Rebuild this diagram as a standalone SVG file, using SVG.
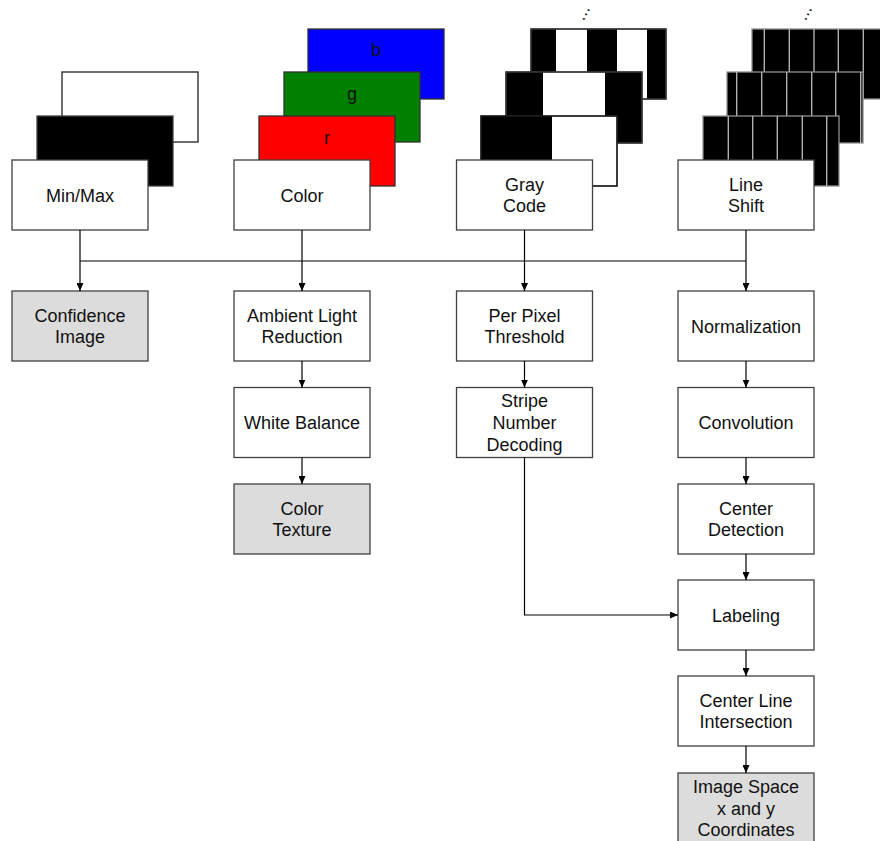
<svg xmlns="http://www.w3.org/2000/svg" width="880" height="841" viewBox="0 0 880 841">
<style>
.box{fill:#ffffff;stroke:#404040;stroke-width:1.3}
.res{fill:#dcdcdc;stroke:#404040;stroke-width:1.3}
.blk{fill:#000000;stroke:#404040;stroke-width:1.3}
.wht{fill:#ffffff;stroke:#202020;stroke-width:1.3}
.gl{stroke:#b0b0b0;stroke-width:1.4}
.lbl{font-family:"Liberation Sans",Arial,sans-serif;font-size:18px;fill:#111111;text-anchor:middle}
.con{fill:none;stroke:#000000;stroke-width:1.2}
</style>
<defs>
<marker id="ah" markerWidth="8" markerHeight="7" refX="8" refY="3.5" orient="auto" markerUnits="userSpaceOnUse">
<path d="M0,0 L8,3.5 L0,7 z" fill="#000000"/>
</marker>
</defs>

<g id="minmax-stack">
<rect class="wht" x="62" y="72" width="136" height="70"/>
<rect class="blk" x="37" y="116" width="136" height="70"/>
</g>
<g id="minmax">
<rect class="box" x="12" y="160" width="136" height="70"/>
<text class="lbl" x="80" y="201.5">Min/Max</text>
</g>

<g id="color-stack">
<rect x="308" y="29" width="136" height="70" fill="#0000ff" stroke="#303030" stroke-width="1.3"/>
<text class="lbl" x="376" y="56">b</text>
<rect x="284" y="72" width="136" height="70" fill="#008000" stroke="#303030" stroke-width="1.3"/>
<text class="lbl" x="352" y="100">g</text>
<rect x="259" y="116" width="136" height="70" fill="#ff0000" stroke="#303030" stroke-width="1.3"/>
<text class="lbl" x="327" y="144">r</text>
</g>
<g id="color">
<rect class="box" x="234" y="160" width="136" height="70"/>
<text class="lbl" x="302" y="201.5">Color</text>
</g>

<g id="graycode-stack">
<text class="lbl" transform="translate(583.5,21.5) rotate(-62)" x="0" y="0" style="text-anchor:start">...</text>
<rect class="wht" x="531" y="29" width="135" height="70"/>
<rect x="531" y="29" width="25" height="70" fill="#000"/>
<rect x="587" y="29" width="30" height="70" fill="#000"/>
<rect x="647" y="29" width="19" height="70" fill="#000"/>
<rect x="531" y="29" width="135" height="70" fill="none" stroke="#404040" stroke-width="1.3"/>
<rect class="wht" x="506" y="72" width="136" height="71"/>
<rect x="506" y="72" width="37" height="71" fill="#000"/>
<rect x="605" y="72" width="37" height="71" fill="#000"/>
<rect x="506" y="72" width="136" height="71" fill="none" stroke="#404040" stroke-width="1.3"/>
<rect class="wht" x="481" y="116" width="136" height="70"/>
<rect x="481" y="116" width="71" height="70" fill="#000"/>
<rect x="481" y="116" width="136" height="70" fill="none" stroke="#202020" stroke-width="1.3"/>
</g>
<g id="graycode">
<rect class="box" x="456.5" y="160" width="136" height="70"/>
<text class="lbl" x="524.5" y="190.7">Gray</text>
<text class="lbl" x="524.5" y="212.3">Code</text>
</g>

<g id="lineshift-stack">
<text class="lbl" transform="translate(805.5,21.5) rotate(-62)" x="0" y="0" style="text-anchor:start">...</text>
<rect x="752" y="29" width="136" height="70" fill="#000" stroke="#909090" stroke-width="1.3"/>
<line class="gl" x1="764.3" y1="29" x2="764.3" y2="99"/>
<line class="gl" x1="789.3" y1="29" x2="789.3" y2="99"/>
<line class="gl" x1="814" y1="29" x2="814" y2="99"/>
<line class="gl" x1="838.3" y1="29" x2="838.3" y2="99"/>
<line class="gl" x1="863.3" y1="29" x2="863.3" y2="99"/>
<rect x="727" y="72" width="136" height="71" fill="#000" stroke="#909090" stroke-width="1.3"/>
<line class="gl" x1="736.7" y1="72" x2="736.7" y2="143"/>
<line class="gl" x1="761.7" y1="72" x2="761.7" y2="143"/>
<line class="gl" x1="786.7" y1="72" x2="786.7" y2="143"/>
<line class="gl" x1="811.7" y1="72" x2="811.7" y2="143"/>
<line class="gl" x1="835.7" y1="72" x2="835.7" y2="143"/>
<line class="gl" x1="860.7" y1="72" x2="860.7" y2="143"/>
<rect x="703" y="116" width="136" height="70" fill="#000" stroke="#909090" stroke-width="1.3"/>
<line class="gl" x1="728.3" y1="116" x2="728.3" y2="186"/>
<line class="gl" x1="752.7" y1="116" x2="752.7" y2="186"/>
<line class="gl" x1="777.3" y1="116" x2="777.3" y2="186"/>
<line class="gl" x1="802.3" y1="116" x2="802.3" y2="186"/>
<line class="gl" x1="826.7" y1="116" x2="826.7" y2="186"/>
</g>
<g id="lineshift">
<rect class="box" x="678" y="160" width="136" height="70"/>
<text class="lbl" x="746" y="190.7">Line</text>
<text class="lbl" x="746" y="212.3">Shift</text>
</g>

<g id="confidence">
<rect class="res" x="12" y="291" width="136" height="70"/>
<text class="lbl" x="80" y="321.7">Confidence</text>
<text class="lbl" x="80" y="343.3">Image</text>
</g>
<g id="ambient">
<rect class="box" x="234" y="291" width="136" height="70"/>
<text class="lbl" x="302" y="321.7">Ambient Light</text>
<text class="lbl" x="302" y="343.3">Reduction</text>
</g>
<g id="threshold">
<rect class="box" x="456.5" y="291" width="136" height="70"/>
<text class="lbl" x="524.5" y="321.7">Per Pixel</text>
<text class="lbl" x="524.5" y="343.3">Threshold</text>
</g>
<g id="normalization">
<rect class="box" x="678" y="291" width="136" height="70"/>
<text class="lbl" x="746" y="332.5">Normalization</text>
</g>

<g id="whitebalance">
<rect class="box" x="234" y="387.5" width="136" height="70"/>
<text class="lbl" x="302" y="429">White Balance</text>
</g>
<g id="stripe">
<rect class="box" x="456.5" y="387.5" width="136" height="70"/>
<text class="lbl" x="524.5" y="407.4">Stripe</text>
<text class="lbl" x="524.5" y="429">Number</text>
<text class="lbl" x="524.5" y="450.6">Decoding</text>
</g>
<g id="convolution">
<rect class="box" x="678" y="387.5" width="136" height="70"/>
<text class="lbl" x="746" y="429">Convolution</text>
</g>

<g id="colortexture">
<rect class="res" x="234" y="484" width="136" height="70"/>
<text class="lbl" x="302" y="514.7">Color</text>
<text class="lbl" x="302" y="536.3">Texture</text>
</g>
<g id="centerdetection">
<rect class="box" x="678" y="484" width="136" height="70"/>
<text class="lbl" x="746" y="514.7">Center</text>
<text class="lbl" x="746" y="536.3">Detection</text>
</g>

<g id="labeling">
<rect class="box" x="678" y="580" width="136" height="70"/>
<text class="lbl" x="746" y="621.5">Labeling</text>
</g>
<g id="centerline">
<rect class="box" x="678" y="676" width="136" height="70"/>
<text class="lbl" x="746" y="706.7">Center Line</text>
<text class="lbl" x="746" y="728.3">Intersection</text>
</g>
<g id="imagespace">
<rect class="res" x="678" y="773" width="136" height="70"/>
<text class="lbl" x="746" y="792.9">Image Space</text>
<text class="lbl" x="746" y="814.5">x and y</text>
<text class="lbl" x="746" y="836.1">Coordinates</text>
</g>

<g id="connectors">
<line class="con" x1="80" y1="261" x2="746" y2="261"/>
<line class="con" x1="80" y1="230" x2="80" y2="291" marker-end="url(#ah)"/>
<line class="con" x1="302" y1="230" x2="302" y2="291" marker-end="url(#ah)"/>
<line class="con" x1="524.5" y1="230" x2="524.5" y2="291" marker-end="url(#ah)"/>
<line class="con" x1="746" y1="230" x2="746" y2="291" marker-end="url(#ah)"/>
<line class="con" x1="302" y1="361" x2="302" y2="387.5" marker-end="url(#ah)"/>
<line class="con" x1="302" y1="457.5" x2="302" y2="484" marker-end="url(#ah)"/>
<line class="con" x1="524.5" y1="361" x2="524.5" y2="387.5" marker-end="url(#ah)"/>
<polyline class="con" points="524.5,457.5 524.5,615 678,615" marker-end="url(#ah)"/>
<line class="con" x1="746" y1="361" x2="746" y2="387.5" marker-end="url(#ah)"/>
<line class="con" x1="746" y1="457.5" x2="746" y2="484" marker-end="url(#ah)"/>
<line class="con" x1="746" y1="554" x2="746" y2="580" marker-end="url(#ah)"/>
<line class="con" x1="746" y1="650" x2="746" y2="676" marker-end="url(#ah)"/>
<line class="con" x1="746" y1="746" x2="746" y2="773" marker-end="url(#ah)"/>
</g>
</svg>
